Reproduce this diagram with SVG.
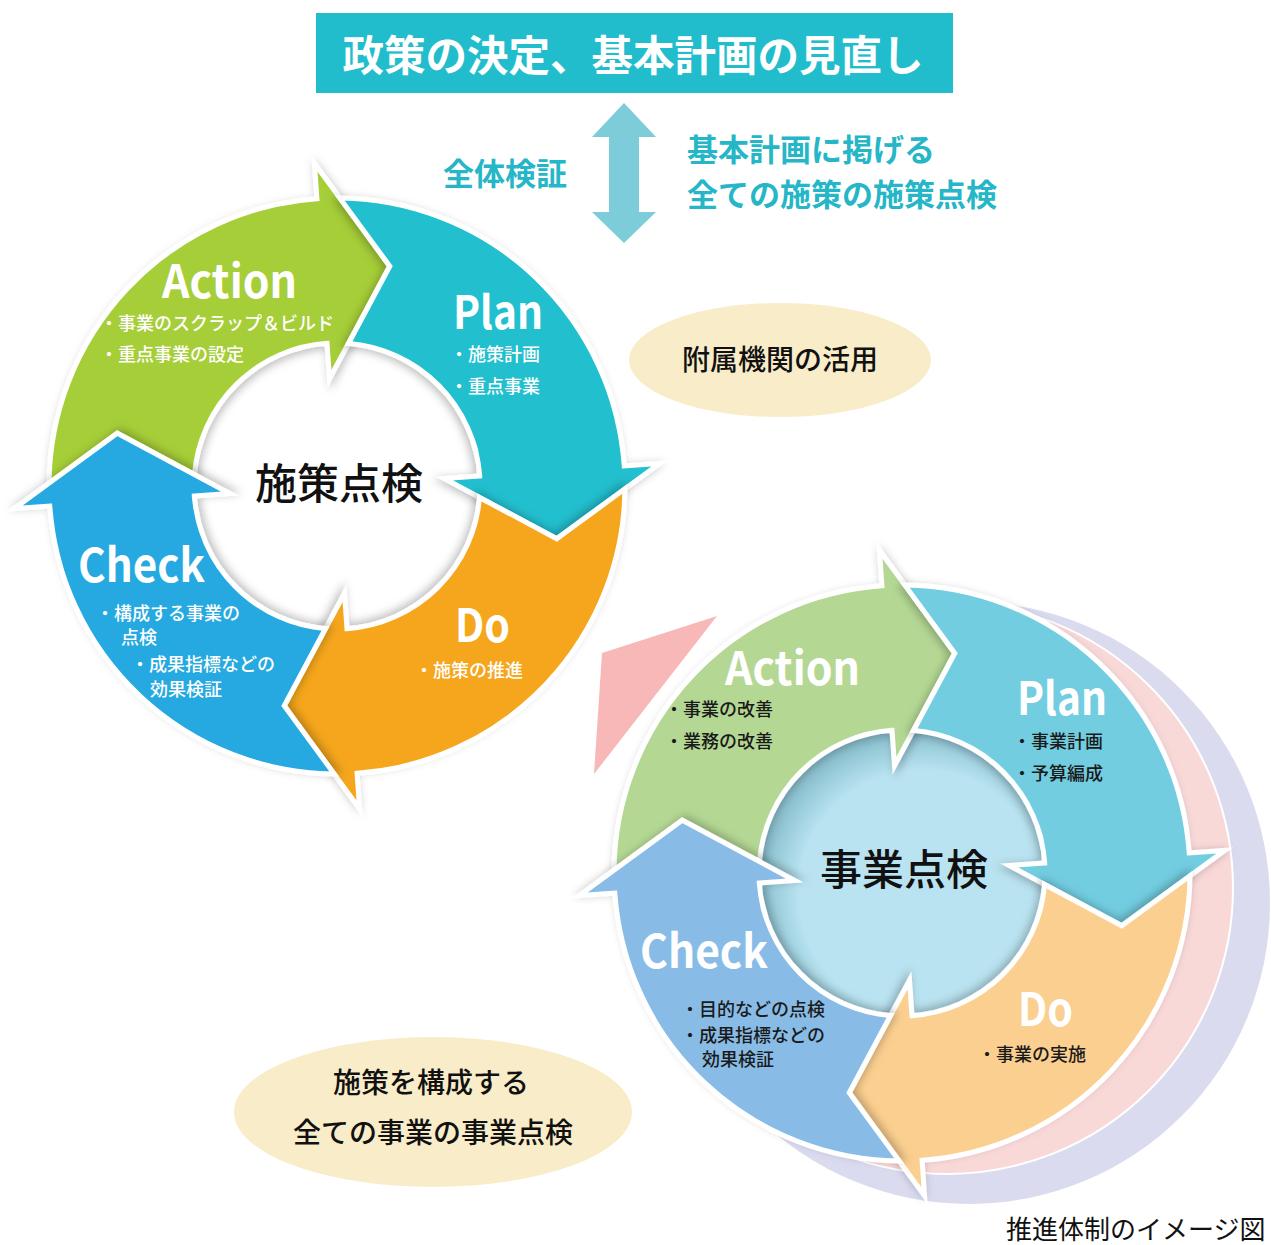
<svg xmlns="http://www.w3.org/2000/svg" width="1271" height="1245" viewBox="0 0 1271 1245">
<defs>
<style>
text{font-family:"Noto Sans CJK JP","Noto Sans",sans-serif;}
.arr{stroke:#fff;stroke-width:5;stroke-linejoin:miter;stroke-miterlimit:10;filter:url(#sh);}
.lbl{font-weight:700;font-size:46px;fill:#fff;}
.bw{font-size:18px;fill:#fff;font-weight:500;}
.bk{font-size:18px;fill:#1a1a1a;font-weight:500;}
.ctr{font-size:42px;fill:#111;font-weight:500;}
.teal{font-size:31px;fill:#25b6c7;font-weight:700;}
.ell{font-size:28px;fill:#111;font-weight:500;}
</style>
<filter id="sh" x="-20%" y="-20%" width="140%" height="140%">
<feDropShadow dx="2" dy="3" stdDeviation="4" flood-color="#000" flood-opacity="0.25"/>
</filter>
<radialGradient id="innerGrad" cx="0.57" cy="0.57" r="0.55">
<stop offset="0.78" stop-color="#b9e3f0"/>
<stop offset="1" stop-color="#8fc4d3"/>
</radialGradient>
<path id="arrow" d="M -287.98 -2.84 A 288 288 0 0 1 -20.09 -287.30 L -22.57 -322.71 L 52.80 -219.71 L -7.50 -107.24 L -9.98 -142.65 A 143 143 0 0 0 -142.55 -11.43 L -219.72 -52.80 Z"/>
</defs>
<rect width="1271" height="1245" fill="#fff"/>

<g id="banner">
<rect x="316" y="13" width="637" height="80" fill="#22bdcc"/>
<text x="633" y="71" text-anchor="middle" font-size="41.5" font-weight="700" fill="#fff">政策の決定、基本計画の見直し</text>
</g>

<g id="connectors">
<polygon points="624,103 656,137 639,137 639,212 656,212 624,243 592,212 609,212 609,137 592,137" fill="#7ccdd9"/>
</g>

<g id="label-zentai">
<text class="teal" x="443" y="185">全体検証</text>
</g>
<g id="label-kihon">
<text class="teal" x="687" y="161">基本計画に掲げる</text>
<text class="teal" x="687" y="206">全ての施策の施策点検</text>
</g>

<g id="ellipse-fuzoku">
<ellipse cx="780" cy="360" rx="151" ry="57" fill="#f9ecc9"/>
<text class="ell" x="780" y="370" text-anchor="middle">附属機関の活用</text>
</g>

<g id="ellipse-jigyo">
<ellipse cx="433" cy="1112" rx="199" ry="75" fill="#f9ecc9"/>
<text class="ell" x="431" y="1093" text-anchor="middle">施策を構成する</text>
<text class="ell" x="433" y="1143" text-anchor="middle">全ての事業の事業点検</text>
</g>

<!-- left cycle -->
<g id="left-action">
<use href="#arrow" class="arr" fill="#a6ce39" transform="translate(337,486)"/>
<text class="lbl" x="162" y="298" textLength="135" lengthAdjust="spacingAndGlyphs">Action</text>
<text class="bw" x="100" y="330">・事業のスクラップ＆ビルド</text>
<text class="bw" x="100" y="361">・重点事業の設定</text>
</g>
<g id="left-plan">
<use href="#arrow" class="arr" fill="#22bfcf" transform="translate(337,486) rotate(90)"/>
<text class="lbl" x="453" y="329" textLength="90" lengthAdjust="spacingAndGlyphs">Plan</text>
<text class="bw" x="450" y="361">・施策計画</text>
<text class="bw" x="450" y="393">・重点事業</text>
</g>
<g id="left-do">
<use href="#arrow" class="arr" fill="#f5a61d" transform="translate(337,486) rotate(180)"/>
<text class="lbl" x="455" y="642" textLength="55" lengthAdjust="spacingAndGlyphs">Do</text>
<text class="bw" x="415" y="677">・施策の推進</text>
</g>
<g id="left-check">
<use href="#arrow" class="arr" fill="#26a9e0" transform="translate(337,486) rotate(270)"/>
<text class="lbl" x="78" y="582" textLength="127" lengthAdjust="spacingAndGlyphs">Check</text>
<text class="bw" x="96" y="620">・構成する事業の</text>
<text class="bw" x="121" y="644">点検</text>
<text class="bw" x="131" y="671">・成果指標などの</text>
<text class="bw" x="150" y="696">効果検証</text>
</g>
<g id="left-center">
<text class="ctr" x="255" y="499">施策点検</text>
</g>

<!-- right cycle background -->
<g id="right-stack">
<circle cx="969" cy="903" r="301" fill="#dadbef"/>
<circle cx="947" cy="888" r="286" fill="#f9d8d8" stroke="#fff" stroke-width="2"/>
</g>
<g id="pink-triangle">
<polygon points="602,653 717,616 594,774" fill="#f8b8b8"/>
</g>

<g id="right-inner">
<circle cx="902" cy="873" r="143" fill="url(#innerGrad)"/>
</g>
<g id="right-action">
<use href="#arrow" class="arr" fill="#b4d894" transform="translate(902,873)"/>
<text class="lbl" x="725" y="685" textLength="135" lengthAdjust="spacingAndGlyphs">Action</text>
<text class="bk" x="665" y="716">・事業の改善</text>
<text class="bk" x="665" y="748">・業務の改善</text>
</g>
<g id="right-plan">
<use href="#arrow" class="arr" fill="#72cde0" transform="translate(902,873) rotate(90)"/>
<text class="lbl" x="1017" y="715" textLength="90" lengthAdjust="spacingAndGlyphs">Plan</text>
<text class="bk" x="1013" y="748">・事業計画</text>
<text class="bk" x="1013" y="780">・予算編成</text>
</g>
<g id="right-do">
<use href="#arrow" class="arr" fill="#fbcf8f" transform="translate(902,873) rotate(180)"/>
<text class="lbl" x="1018" y="1026" textLength="55" lengthAdjust="spacingAndGlyphs">Do</text>
<text class="bk" x="978" y="1061">・事業の実施</text>
</g>
<g id="right-check">
<use href="#arrow" class="arr" fill="#88bce6" transform="translate(902,873) rotate(270)"/>
<text class="lbl" x="640" y="968" textLength="128" lengthAdjust="spacingAndGlyphs">Check</text>
<text class="bk" x="681" y="1016">・目的などの点検</text>
<text class="bk" x="681" y="1042">・成果指標などの</text>
<text class="bk" x="702" y="1066">効果検証</text>
</g>
<g id="right-center">
<text class="ctr" x="820" y="885">事業点検</text>
</g>

<g id="caption">
<text x="1006" y="1239" font-size="26" fill="#111">推進体制のイメージ図</text>
</g>
</svg>
